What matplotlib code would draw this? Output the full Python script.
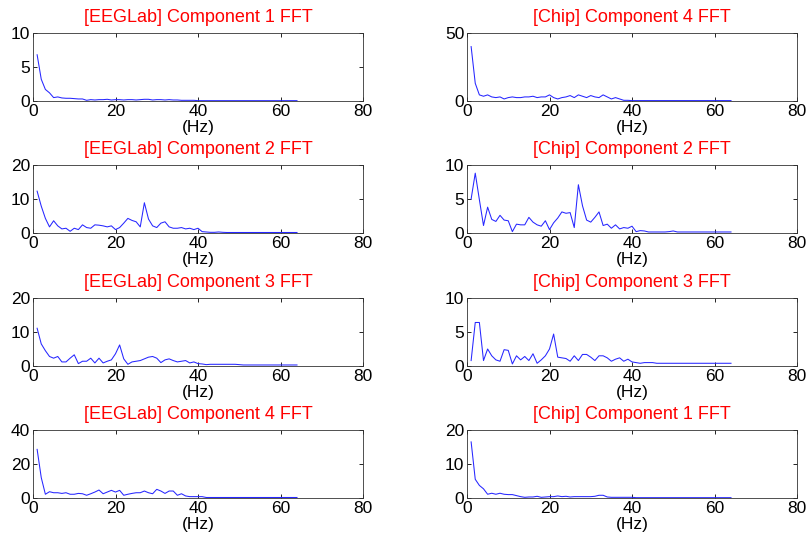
import numpy as np
import matplotlib
matplotlib.use("Agg")
import matplotlib.pyplot as plt

plt.rcParams['font.family'] = ['Liberation Sans', 'DejaVu Sans']

# Frequency bins (Hz)
freqs = np.arange(1, 65)

def tail(values, n_total, fill):
    values = list(values)
    return values + [fill] * (n_total - len(values))

eeg_c1 = tail([6.8, 3.2, 1.7, 1.2, 0.5, 0.6, 0.45, 0.4, 0.4, 0.35,
               0.3, 0.3, 0.1, 0.2, 0.15, 0.2, 0.2, 0.25, 0.15, 0.2,
               0.2, 0.15, 0.2, 0.2, 0.15, 0.2, 0.25, 0.25, 0.15, 0.2,
               0.2, 0.15, 0.2, 0.15, 0.15, 0.1, 0.1, 0.1, 0.1, 0.05], 64, 0.05)

chip_c4 = tail([40, 13, 4.5, 3.5, 4.5, 3, 2.5, 3, 1.5, 2.5,
                3, 2.5, 2.5, 3, 3, 3.5, 2.5, 3, 3, 4.5,
                2.5, 1.5, 2.5, 3, 4, 2.5, 4.5, 3.5, 2.5, 4,
                3, 2.5, 4.5, 3, 1.5, 2.5, 1.5, 0.5, 0.5, 0.3], 64, 0.3)

eeg_c2 = tail([12.3, 7.9, 4.3, 1.8, 3.6, 2.1, 1.2, 1.4, 0.5, 1.4,
               1.0, 2.4, 1.6, 1.4, 2.4, 2.3, 2.1, 1.8, 2.1, 1.0,
               1.6, 2.9, 4.3, 3.7, 3.3, 1.8, 8.9, 4.1, 2.1, 1.6,
               2.9, 3.3, 1.8, 1.4, 1.4, 1.6, 1.2, 1.4, 1.0, 1.4,
               0.4, 0.3, 0.2, 0.2, 0.3, 0.2], 64, 0.15)

chip_c2 = tail([5.0, 8.8, 4.9, 1.1, 3.8, 2.0, 1.7, 2.6, 1.9, 1.8,
                0.2, 1.3, 1.2, 1.2, 2.3, 1.6, 1.2, 1.0, 1.8, 0.5,
                1.5, 2.2, 3.1, 2.9, 3.0, 0.8, 7.1, 4.0, 1.9, 1.6,
                2.3, 3.1, 1.1, 1.3, 0.7, 1.2, 0.6, 0.8, 0.7, 1.0,
                0.2, 0.35, 0.3, 0.15, 0.15, 0.15, 0.15, 0.15, 0.2, 0.3,
                0.15], 64, 0.15)

eeg_c3 = tail([11.1, 6.5, 4.5, 2.8, 2.3, 2.8, 1.2, 1.2, 2.3, 3.3,
               0.7, 1.4, 1.4, 2.3, 0.9, 2.3, 0.9, 1.4, 1.8, 3.6,
               6.2, 2.1, 0.5, 1.2, 1.4, 1.6, 2.1, 2.6, 2.8, 2.3,
               1.0, 1.8, 2.1, 1.6, 1.2, 1.4, 1.6, 0.9, 1.2, 0.7,
               0.6, 0.4, 0.5, 0.5, 0.5, 0.5, 0.5, 0.5, 0.5, 0.4], 64, 0.3)

chip_c3 = tail([0.8, 6.4, 6.4, 0.8, 2.5, 1.5, 0.9, 0.7, 2.4, 2.3,
                0.3, 1.5, 0.9, 1.4, 0.8, 1.8, 0.4, 0.9, 1.5, 2.5,
                4.7, 1.3, 1.2, 1.1, 0.7, 1.5, 0.8, 1.7, 1.7, 1.3,
                0.8, 1.5, 1.5, 1.2, 0.7, 1.0, 1.2, 0.7, 1.0, 0.6,
                0.5, 0.4, 0.5, 0.5, 0.5, 0.4], 64, 0.4)

eeg_c4 = tail([28.6, 12, 2.2, 3.7, 3.1, 3.1, 2.7, 3.1, 2.2, 2.2,
               2.7, 2.5, 1.6, 2.5, 3.5, 4.7, 2.5, 3.5, 4.5, 3.5,
               4.5, 1.6, 2.2, 2.7, 3.1, 3.1, 4.1, 3.1, 2.5, 5.1,
               4.1, 2.7, 4.1, 4.1, 1.6, 2.5, 1.2, 0.8, 0.8, 0.8,
               0.8], 64, 0.3)

chip_c1 = tail([16.5, 5.5, 3.7, 2.7, 1.1, 1.4, 1.1, 1.4, 1.1, 1.0,
                1.0, 0.7, 0.4, 0.2, 0.3, 0.3, 0.5, 0.2, 0.3, 0.4,
                0.4, 0.6, 0.4, 0.5, 0.3, 0.4, 0.4, 0.4, 0.4, 0.4,
                0.5, 0.8, 0.8, 0.3, 0.2, 0.2, 0.2, 0.2, 0.2, 0.2], 64, 0.1)

titles = [
    "[EEGLab] Component 1 FFT", "[Chip] Component 4 FFT",
    "[EEGLab] Component 2 FFT", "[Chip] Component 2 FFT",
    "[EEGLab] Component 3 FFT", "[Chip] Component 3 FFT",
    "[EEGLab] Component 4 FFT", "[Chip] Component 1 FFT",
]
series = [eeg_c1, chip_c4, eeg_c2, chip_c2, eeg_c3, chip_c3, eeg_c4, chip_c1]
y_limits = [10, 50, 20, 10, 20, 10, 40, 20]
y_ticks = [[0, 5, 10], [0, 50], [0, 10, 20], [0, 5, 10],
           [0, 10, 20], [0, 5, 10], [0, 20, 40], [0, 10, 20]]
x_ticks = [0, 20, 40, 60, 80]

W, H = 809, 539
fig = plt.figure(figsize=(W / 100, H / 100), dpi=100)

col_left = [33, 467]
ax_w = 330
row_top = [33, 165, 298, 430]
ax_h = 68

for i, (vals, title) in enumerate(zip(series, titles)):
    r, c = divmod(i, 2)
    left = col_left[c] / W
    bottom = (H - row_top[r] - ax_h) / H
    ax = fig.add_axes([left, bottom, ax_w / W, ax_h / H])
    ax.plot(freqs, vals, color='#2626ff', linewidth=0.75)
    ax.set_xlim(0, 80)
    ax.set_ylim(0, y_limits[i])
    ax.set_xticks(x_ticks)
    ax.set_yticks(y_ticks[i])
    ax.tick_params(direction='in', length=3, width=0.6, labelsize=12.5,
                   top=True, right=True, pad=2, colors='black')
    for s in ax.spines.values():
        s.set_linewidth(0.6)
        s.set_color('#333333')
    ax.set_title(title, color='red', fontsize=13, pad=8)
    ax.set_xlabel("(Hz)", fontsize=12.5, labelpad=1)

fig.savefig("out.png", dpi=100)
